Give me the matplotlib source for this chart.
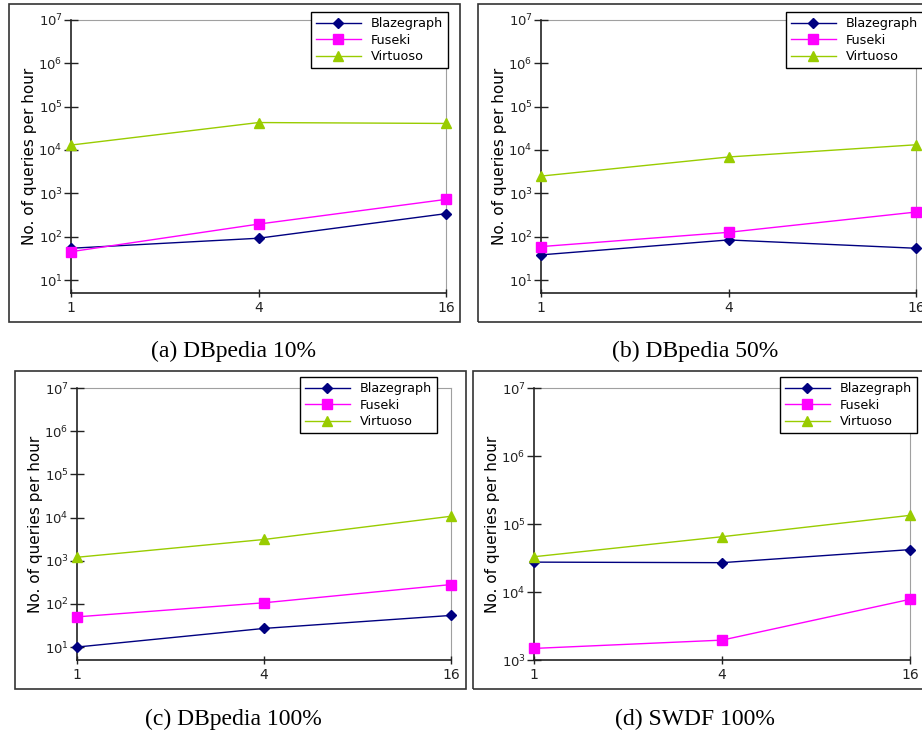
import matplotlib.pyplot as plt
from matplotlib.patches import Rectangle
from matplotlib.ticker import NullLocator

# thread counts on the x axis
threads = [1, 4, 16]
thread_labels = ["1", "4", "16"]

# queries per hour
blaze_dbp10 = [54, 92, 340]
fuseki_dbp10 = [45, 195, 725]
virt_dbp10 = [13000, 43000, 41000]

blaze_dbp50 = [38, 84, 54]
fuseki_dbp50 = [59, 126, 370]
virt_dbp50 = [2500, 6900, 13200]

blaze_dbp100 = [10, 27, 54]
fuseki_dbp100 = [50, 106, 280]
virt_dbp100 = [1200, 3100, 10700]

blaze_swdf = [27500, 27000, 42000]
fuseki_swdf = [1480, 1960, 7800]
virt_swdf = [33000, 65000, 134000]

captions = ["(a) DBpedia 10%", "(b) DBpedia 50%", "(c) DBpedia 100%", "(d) SWDF 100%"]

W = 922
H = 736

fig = plt.figure(figsize=(W / 100, H / 100), dpi=100)


def box(x0, y0, x1, y1):
	# pixel box (top-left origin) -> figure fraction rect
	return [x0 / W, 1 - y1 / H, (x1 - x0) / W, (y1 - y0) / H]


def draw_panel(rect, blaze, fuseki, virt, ylo, yticks, leg_xy):
	ax = fig.add_axes(box(*rect))
	ax.plot(threads, blaze, color="#000080", marker="D", markersize=5.5, lw=1, label="Blazegraph", clip_on=False, zorder=3)
	ax.plot(threads, fuseki, color="#ff00ff", marker="s", markersize=6.5, lw=1, label="Fuseki", clip_on=False, zorder=3)
	ax.plot(threads, virt, color="#99cc00", marker="^", markersize=7, lw=1, label="Virtuoso", clip_on=False, zorder=3)
	ax.set_xscale("log", base=2)
	ax.set_yscale("log")
	ax.set_xlim(1, 16)
	ax.set_ylim(ylo, 1e7)
	ax.set_xticks(threads)
	ax.set_xticklabels(thread_labels)
	ax.set_yticks(yticks)
	ax.xaxis.set_minor_locator(NullLocator())
	ax.yaxis.set_minor_locator(NullLocator())
	ax.tick_params(axis="y", direction="inout", length=10, width=1, labelsize=9.5, pad=1, colors="#222222")
	ax.tick_params(axis="x", direction="inout", length=6, width=1, labelsize=10, pad=3, colors="#222222")
	ax.set_ylabel("No. of queries per hour", fontsize=11, labelpad=1)
	for s in ["left", "bottom"]:
		ax.spines[s].set_linewidth(1.2)
		ax.spines[s].set_color("#222222")
	for s in ["top", "right"]:
		ax.spines[s].set_linewidth(0.8)
		ax.spines[s].set_color("#a0a0a0")
	for s in ax.spines.values():
		s.set_zorder(0)
	ax.legend(loc="upper left", bbox_to_anchor=(leg_xy[0] / W, 1 - leg_xy[1] / H),
		bbox_transform=fig.transFigure, fontsize=9.2, fancybox=False, framealpha=1,
		edgecolor="black", borderpad=0.4, labelspacing=0.28, handlelength=3.5,
		handletextpad=0.8, borderaxespad=0)
	ax.get_legend().get_frame().set_linewidth(1)
	return ax


dec_ticks = [1e1, 1e2, 1e3, 1e4, 1e5, 1e6, 1e7]

draw_panel((71, 20, 446, 293), blaze_dbp10, fuseki_dbp10, virt_dbp10, 10 ** 0.7, dec_ticks, (311, 12))
draw_panel((541, 20, 916, 293), blaze_dbp50, fuseki_dbp50, virt_dbp50, 10 ** 0.7, dec_ticks, (786, 12))
draw_panel((77, 388, 451, 660), blaze_dbp100, fuseki_dbp100, virt_dbp100, 10 ** 0.7, dec_ticks, (300, 377))
draw_panel((534, 388, 910, 660), blaze_swdf, fuseki_swdf, virt_swdf, 1e3, [1e3, 1e4, 1e5, 1e6, 1e7], (780, 377))

# frames around each sub figure
frames = [(9, 4, 460, 322), (478, 4, 935, 322), (15, 371, 466, 689), (473, 371, 935, 689)]
for f in frames:
	x0, y0, w, h = box(*f)
	fig.add_artist(Rectangle((x0, y0), w, h, transform=fig.transFigure, fill=False, ec="#333333", lw=1.2))

cap_pos = [(233, 351), (695, 351), (233, 719), (695, 719)]
for c, p in zip(captions, cap_pos):
	fig.text(p[0] / W, 1 - p[1] / H, c, ha="center", va="center", fontsize=17, family="Liberation Serif")

plt.savefig("out.png", dpi=100)
